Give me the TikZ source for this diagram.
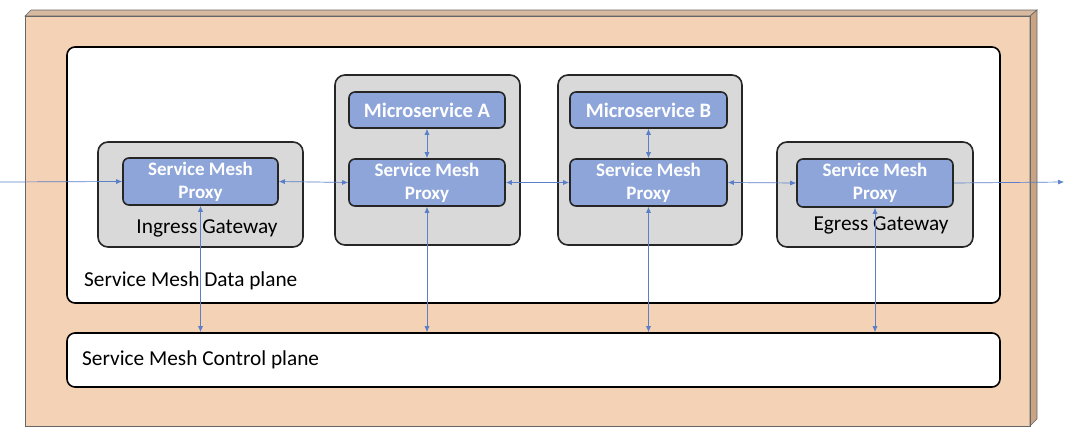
\documentclass[tikz,border=0pt]{standalone}
\usepackage{fontspec}
\setmainfont{Carlito}
\usetikzlibrary{calc}
\usetikzlibrary{arrows.meta}
\definecolor{beige}{HTML}{F4D2B5}
\definecolor{beigeside}{HTML}{C9A384}
\definecolor{proxyblue}{HTML}{8EA5DA}
\definecolor{boxgray}{HTML}{D9D9D9}
\definecolor{linkblue}{HTML}{5B7FC9}
\tikzstyle{plane}=[draw=black, fill=white, line width=1.6pt, rounded corners=8pt, inner sep=0pt]
\tikzstyle{pod}=[draw=black!85, fill=boxgray, line width=1.6pt, rounded corners=10pt, inner sep=0pt]
\tikzstyle{proxy}=[draw=black!85, fill=proxyblue, line width=1.6pt, rounded corners=6pt, inner sep=0pt,
  text=white, font=\bfseries\fontsize{19}{23}\selectfont, align=center]
\tikzstyle{service}=[proxy, font=\bfseries\fontsize{20.5}{23}\selectfont]
\tikzstyle{link}=[linkblue, line width=0.7pt]
\tikzstyle{caption}=[font=\fontsize{21.3}{24}\selectfont, inner sep=0pt]
% Syntax: [style] {name} {x1} {y1} {x2} {y2} {text}
\newcommand{\spanbox}[7][pod]{
  \node[#1, minimum width={(#5-#3)*1pt}, minimum height={(#6-#4)*1pt}] (#2) at ({(#3+#5)/2},{(#4+#6)/2}) {#7};
}

\begin{document}
\begin{tikzpicture}[x=1pt, y=-1pt, >={Latex[length=6pt,width=5pt]}]
\useasboundingbox (0,0) rectangle (1066,431);
% outer slab
\fill[beige] (25,16) rectangle (1030,426);
\filldraw[fill=beige!88!black, draw=gray!80!black, line width=0.6pt] (25,16) -- (31,10) -- (1037,10) -- (1030,16) -- cycle;
\filldraw[fill=beigeside, draw=gray!80!black, line width=0.6pt] (1030,16) -- (1037,10) -- (1037,419) -- (1030,426) -- cycle;
\draw[gray!80!black, line width=0.6pt] (25,16) rectangle (1030,426);
% planes
\spanbox[plane]{data}{67}{47}{1000}{303}{}
\spanbox[plane]{ctrl}{67}{333}{1000}{387}{}
\node[caption, anchor=west] (dataLbl) at (84,281) {Service Mesh Data plane};
\node[caption, anchor=west] (ctrlLbl) at (82,360) {Service Mesh Control plane};
% gateways and pods
\spanbox{gwIn}{98}{142}{303}{247}{}
\spanbox{podA}{335}{75}{520}{245}{}
\spanbox{podB}{558}{75}{742}{245}{}
\spanbox{gwOut}{777}{142}{973}{247}{}
\node[caption] (gwInLbl) at (207,228) {Ingress Gateway};
\node[caption] (gwOutLbl) at (881,225) {Egress Gateway};
% proxies and services
\spanbox[proxy]{pxIn}{123}{158}{278}{205}{Service Mesh\\Proxy}
\spanbox[proxy]{pxA}{349}{159}{505}{206}{Service Mesh\\Proxy}
\spanbox[proxy]{pxB}{570}{159}{727}{206}{Service Mesh\\Proxy}
\spanbox[proxy]{pxOut}{797}{159}{953}{207}{Service Mesh\\Proxy}
\spanbox[service]{msA}{349}{92}{505}{128}{Microservice A}
\spanbox[service]{msB}{570}{92}{727}{128}{Microservice B}
% traffic
\coordinate (inEnd) at (0,182);
\coordinate (outEnd) at (1064,182);
\draw[link, ->] (inEnd) -- (pxIn.west);
\draw[link, <->] (pxIn.east) -- (pxA.west);
\draw[link, <->] (pxA.east) -- (pxB.west);
\draw[link, <->] (pxB.east) -- (pxOut.west);
\draw[link, ->] (pxOut.east) -- (outEnd);
\draw[link, <->] (msA.south) -- (pxA.north);
\draw[link, <->] (msB.south) -- (pxB.north);
% control links
\foreach \px in {pxIn,pxA,pxB,pxOut}
  \draw[link, <->] (\px.south) -- (\px.south |- ctrl.north);
\end{tikzpicture}
\end{document}
